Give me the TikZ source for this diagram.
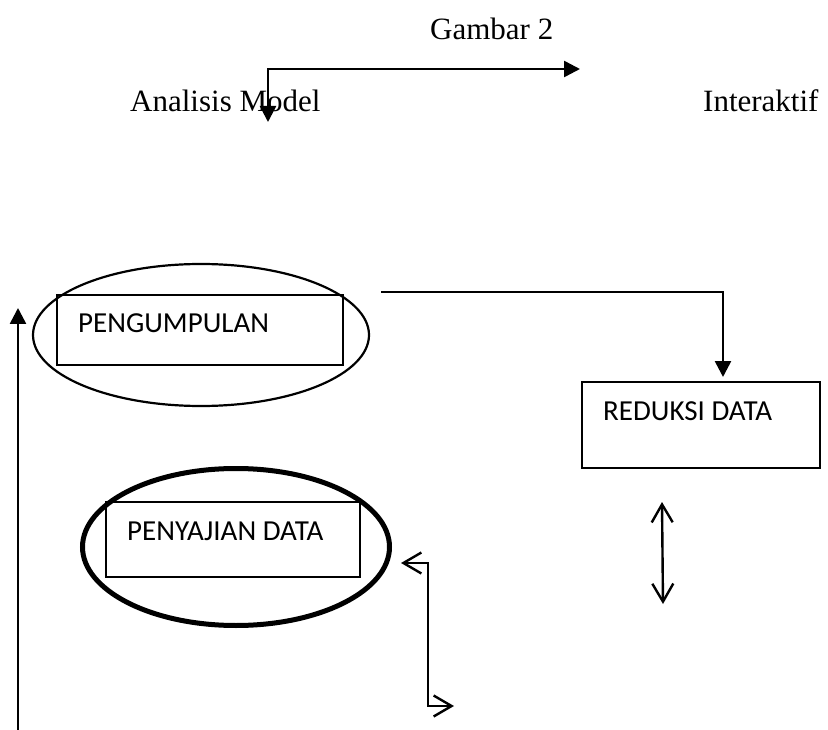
\documentclass[tikz,border=0pt]{standalone}
\usepackage{fontspec}
\setmainfont{Liberation Serif}
\newfontfamily\calib{Carlito}
\usetikzlibrary{shapes.geometric,arrows.meta}
\tikzset{
  ttl/.style={anchor=base west,inner sep=0pt,font=\fontsize{31}{37}\selectfont},
  lbl/.style={anchor=base west,inner sep=0pt,font=\calib\fontsize{29}{35}\selectfont},
  bx/.style={draw,rectangle,line width=1.3pt,inner sep=0pt},
  ell/.style={draw,ellipse,inner sep=0pt},
  conn/.style={line width=2.6pt},
  fillhead/.style={-{Triangle[length=16pt,width=16pt]}},
  openhead/.style={{Straight Barb[length=18pt,width=21pt,line width=2.4pt]}-{Straight Barb[length=18pt,width=21pt,line width=2.4pt]}},
}
\begin{document}
\begin{tikzpicture}[x=1pt,y=-1pt]
\useasboundingbox (0,0) rectangle (828,730);
% titles
\node[ttl] (gambar) at (430,40) {Gambar 2};
\node[ttl] (analisis) at (130,112) {Analisis Model};
\node[ttl] (interaktif) at (703,112) {Interaktif};
% top arrow
\coordinate (ta) at (268,122);
\coordinate (tb) at (268,69);
\coordinate (tc) at (580,69);
\draw[conn,{Triangle[length=16pt,width=16pt]}-{Triangle[length=16pt,width=16pt]}] (ta) -- (tb) -- (tc);
% PENGUMPULAN
\node[ell,line width=2.2pt,minimum width=336pt,minimum height=142pt] (e1) at (201,335) {};
\node[bx,minimum width=286pt,minimum height=70pt] (b1) at (200,330) {};
\node[lbl] (t1) at (78,333) {PENGUMPULAN};
% PENYAJIAN DATA
\node[ell,line width=5pt,minimum width=307pt,minimum height=157pt] (e2) at (236,547) {};
\node[bx,minimum width=254pt,minimum height=75pt] (b2) at (233,539.5) {};
\node[lbl] (t2) at (127,540) {PENYAJIAN DATA};
% REDUKSI DATA
\node[bx,minimum width=238pt,minimum height=86pt] (b3) at (701,425) {};
\node[lbl] (t3) at (603,420) {REDUKSI DATA};
% arrow to reduksi
\coordinate (ra) at (381,292);
\coordinate (rb) at (723,292);
\coordinate (rc) at (723,377);
\draw[conn,fillhead] (ra) -- (rb) -- (rc);
% double vertical arrow
\coordinate (da) at (662,502);
\coordinate (db) at (663,604);
\draw[line width=2.4pt,openhead] (da) -- (db);
% elbow arrow
\coordinate (ea) at (401,563);
\coordinate (eb) at (428,563);
\coordinate (ec) at (428,706);
\coordinate (ed) at (454,706);
\draw[line width=2.4pt,openhead] (ea) -- (eb) -- (ec) -- (ed);
% left vertical arrow
\coordinate (la) at (18,730);
\coordinate (lb) at (18,308);
\draw[conn,fillhead] (la) -- (lb);
\end{tikzpicture}
\end{document}
